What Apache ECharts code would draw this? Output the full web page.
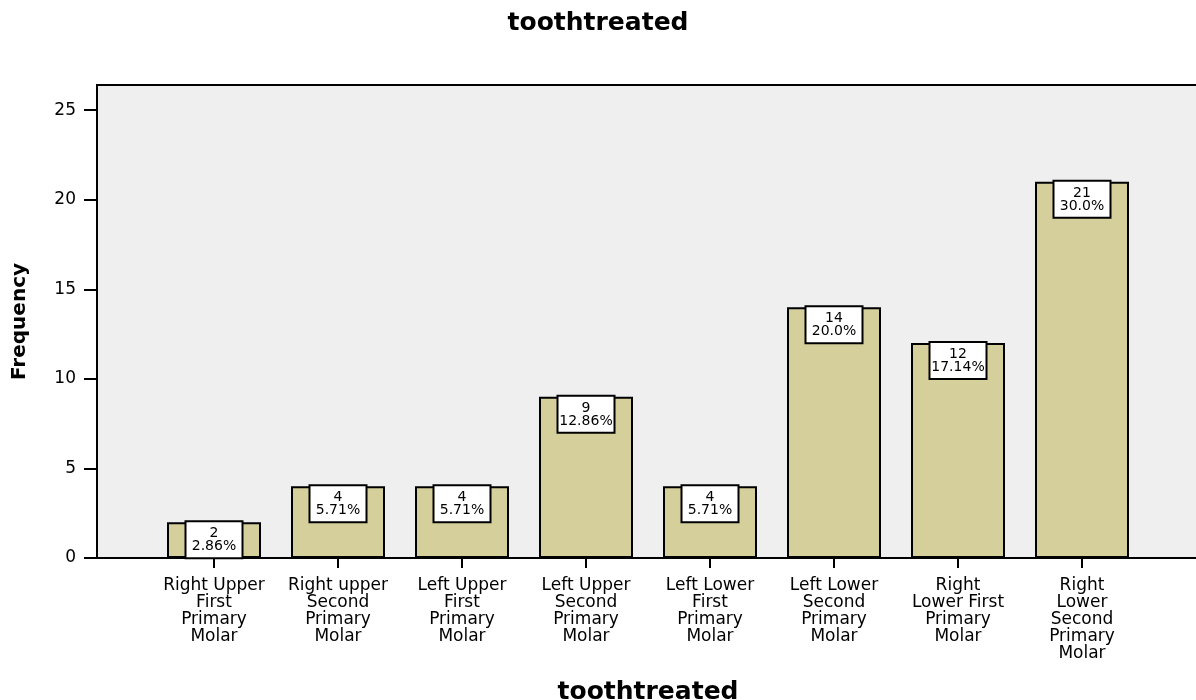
<!DOCTYPE html>
<html>
<head>
<meta charset="utf-8">
<script src="https://cdn.jsdelivr.net/npm/echarts@6/dist/echarts.min.js"></script>
<style>html,body{margin:0;padding:0;background:#fff}#c{width:1196px;height:700px}</style>
</head>
<body>
<div id="c"></div>
<script>
var categories = [
  'Right Upper\nFirst\nPrimary\nMolar',
  'Right upper\nSecond\nPrimary\nMolar',
  'Left Upper\nFirst\nPrimary\nMolar',
  'Left Upper\nSecond\nPrimary\nMolar',
  'Left Lower\nFirst\nPrimary\nMolar',
  'Left Lower\nSecond\nPrimary\nMolar',
  'Right\nLower First\nPrimary\nMolar',
  'Right\nLower\nSecond\nPrimary\nMolar'
];
var frequency = [2, 4, 4, 9, 4, 14, 12, 21];
var percents = ['2.86%', '5.71%', '5.71%', '12.86%', '5.71%', '20.0%', '17.14%', '30.0%'];
var yTicks = [0, 5, 10, 15, 20, 25];
var yMax = 26.4;

var FONT = 'DejaVu Sans';
var chart = echarts.init(document.getElementById('c'));
chart.setOption({
  animation: false,
  backgroundColor: '#ffffff',
  title: {
    text: 'toothtreated',
    left: 'center',
    top: 6,
    textStyle: { fontFamily: FONT, fontSize: 25, fontWeight: 'bold', color: '#000' }
  },
  grid: [
    { left: 97, top: 85, right: -4, bottom: 142, show: true, backgroundColor: '#efefef',
      borderColor: '#000', borderWidth: 2, outerBoundsMode: 'none', containLabel: false },
    { left: 152, top: 85, width: 992, bottom: 142, outerBoundsMode: 'none', containLabel: false }
  ],
  xAxis: [
    { gridIndex: 0, type: 'value', show: false, min: 0, max: 1 },
    { gridIndex: 1, type: 'category', data: categories,
      axisLine: { show: true, lineStyle: { color: '#000', width: 2 } },
      axisTick: { show: true, alignWithLabel: true, length: 10, lineStyle: { color: '#000', width: 2 } },
      axisLabel: { interval: 0, margin: 19, fontFamily: FONT, fontSize: 17, lineHeight: 17, color: '#000' },
      name: 'toothtreated', nameLocation: 'middle', nameGap: 122,
      nameTextStyle: { fontFamily: FONT, fontSize: 25, fontWeight: 'bold', color: '#000' }
    }
  ],
  yAxis: [
    { gridIndex: 0, type: 'value', min: 0, max: yMax,
      axisLine: { show: false },
      axisTick: { show: true, customValues: yTicks, length: 13, lineStyle: { color: '#000', width: 2 } },
      axisLabel: { customValues: yTicks, margin: 21, fontFamily: FONT, fontSize: 17, color: '#000' },
      splitLine: { show: false },
      name: 'Frequency', nameLocation: 'middle', nameRotate: 90, nameGap: 67,
      nameTextStyle: { fontFamily: FONT, fontSize: 20, fontWeight: 'bold', color: '#000' }
    },
    { gridIndex: 1, type: 'value', min: 0, max: yMax, show: false }
  ],
  series: [{
    type: 'bar',
    xAxisIndex: 1,
    yAxisIndex: 1,
    data: frequency,
    barWidth: 94,
    itemStyle: { color: '#d4cf9b', borderColor: '#000', borderWidth: 2 },
    label: {
      show: true,
      position: 'insideTop',
      distance: 0,
      formatter: function (p) { return p.value + '\n' + percents[p.dataIndex]; },
      fontFamily: FONT,
      fontSize: 14,
      lineHeight: 13,
      color: '#000',
      align: 'center',
      width: 55,
      backgroundColor: '#fff',
      borderColor: '#000',
      borderWidth: 2,
      padding: [5, 0, 4, 0]
    }
  }]
});
</script>
</body>
</html>
